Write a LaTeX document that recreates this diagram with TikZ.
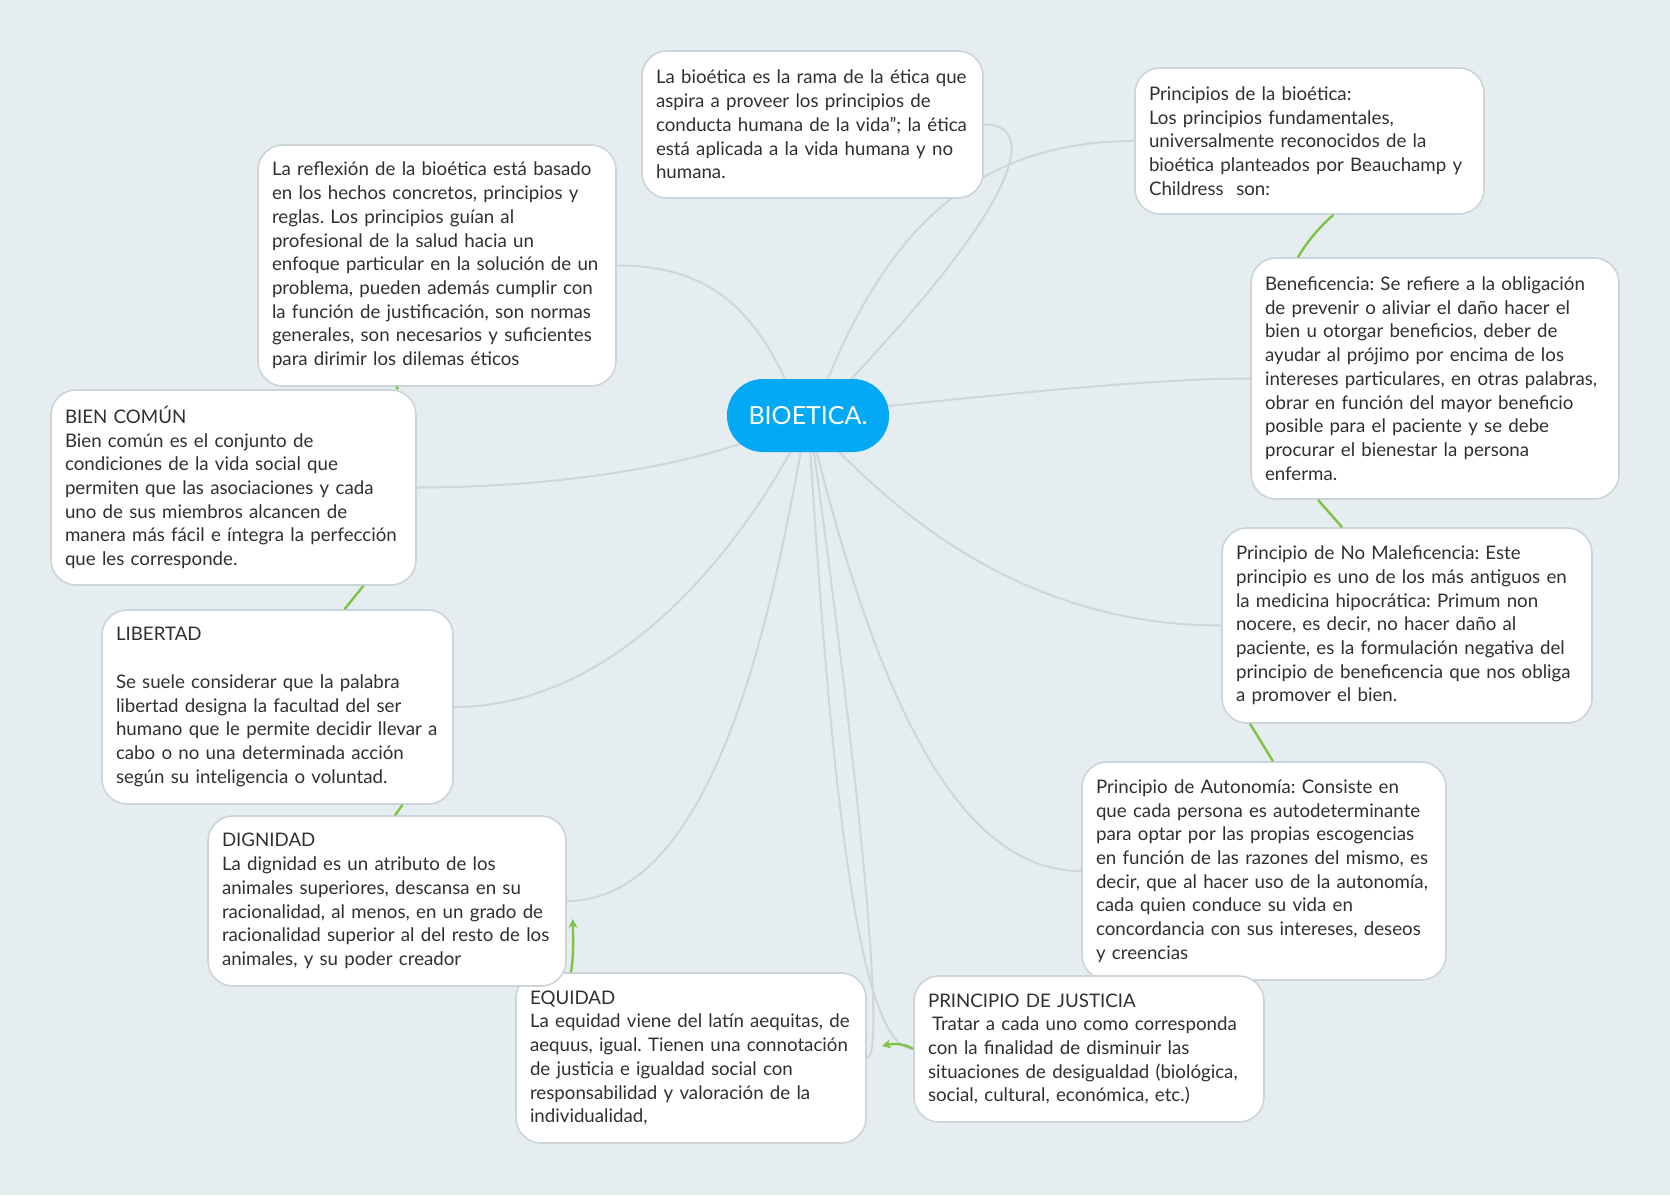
\documentclass[tikz,border=0pt]{standalone}
\usepackage{fontspec}
\setmainfont{Lato}
\usetikzlibrary{calc,arrows.meta}
\pgfdeclarelayer{background}
\pgfsetlayers{background,main}
\definecolor{bg}{HTML}{E6EDF1}
\definecolor{cardborder}{HTML}{CDD4D9}
\definecolor{txt}{HTML}{303030}
\definecolor{bioblue}{HTML}{03A9F4}
\definecolor{link}{HTML}{CFD6DB}
\definecolor{leaf}{HTML}{7DC443}
\frenchspacing
\begin{document}
\begin{tikzpicture}[x=1pt,y=-1pt,
  card/.style={draw=cardborder, line width=1.6pt, fill=white, rounded corners=25pt,
    inner xsep=14pt, inner ysep=0pt, align=left, text=txt,
    font=\fontsize{18.7}{23.7}\selectfont},
  hub/.style={fill=bioblue, rounded corners=36pt, minimum width=162pt, minimum height=73pt,
    text=white, font=\fontsize{25}{30}\selectfont, inner sep=0pt},
  graylink/.style={draw=link, line width=2pt},
  greenlink/.style={draw=leaf, line width=2.4pt},
  greenarrow/.style={draw=leaf, line width=2.4pt, -{Stealth[length=9pt,width=9pt]}},
]
\begin{pgfonlayer}{background}
\fill[bg] (0,0) rectangle (1670,1195);
\end{pgfonlayer}
\useasboundingbox (0,0) rectangle (1670,1195);

\node[hub] (bio) at (808,415.5) {BIOETICA.};

\node[card, text width=313pt, minimum height=147pt] (box1) at (812.5,124.5)
{La bioética es la rama de la ética que\\
aspira a proveer los principios de\\
conducta humana de la vida”; la ética\\
está aplicada a la vida humana y no\\
humana.};

\node[card, text width=321pt, minimum height=146pt] (princ) at (1309.5,141)
{Principios de la bioética:\\
Los principios fundamentales,\\
universalmente reconocidos de la\\
bioética planteados por Beauchamp y\\
Childress\ \ son:};

\node[card, text width=340pt, minimum height=241pt] (benef) at (1435,378.5)
{Beneficencia: Se refiere a la obligación\\
de prevenir o aliviar el daño hacer el\\
bien u otorgar beneficios, deber de\\
ayudar al prójimo por encima de los\\
intereses particulares, en otras palabras,\\
obrar en función del mayor beneficio\\
posible para el paciente y se debe\\
procurar el bienestar la persona\\
enferma.};

\node[card, text width=342pt, minimum height=195pt] (nomal) at (1407,625.5)
{Principio de No Maleficencia: Este\\
principio es uno de los más antiguos en\\
la medicina hipocrática: Primum non\\
nocere, es decir, no hacer daño al\\
paciente, es la formulación negativa del\\
principio de beneficencia que nos obliga\\
a promover el bien.};

\node[card, text width=336pt, minimum height=218pt] (auton) at (1264,871)
{Principio de Autonomía: Consiste en\\
que cada persona es autodeterminante\\
para optar por las propias escogencias\\
en función de las razones del mismo, es\\
decir, que al hacer uso de la autonomía,\\
cada quien conduce su vida en\\
concordancia con sus intereses, deseos\\
y creencias};

\node[card, text width=322pt, minimum height=146pt] (just) at (1089,1049)
{PRINCIPIO DE JUSTICIA\\
\hspace*{4pt}Tratar a cada uno como corresponda\\
con la finalidad de disminuir las\\
situaciones de desigualdad (biológica,\\
social, cultural, económica, etc.)};

\node[card, text width=322pt, minimum height=170pt] (equid) at (691,1058)
{EQUIDAD\\
La equidad viene del latín aequitas, de\\
aequus, igual. Tienen una connotación\\
de justicia e igualdad social con\\
responsabilidad y valoración de la\\
individualidad,};

\node[card, text width=330pt, minimum height=170pt] (dign) at (387,901)
{DIGNIDAD\\
La dignidad es un atributo de los\\
animales superiores, descansa en su\\
racionalidad, al menos, en un grado de\\
racionalidad superior al del resto de los\\
animales, y su poder creador};

\node[card, text width=323pt, minimum height=194pt] (libert) at (277.5,707)
{LIBERTAD\\
\mbox{}\\
Se suele considerar que la palabra\\
libertad designa la facultad del ser\\
humano que le permite decidir llevar a\\
cabo o no una determinada acción\\
según su inteligencia o voluntad.};

\node[card, text width=337pt, minimum height=195pt] (bien) at (233.5,487.5)
{BIEN COMÚN\\
Bien común es el conjunto de\\
condiciones de la vida social que\\
permiten que las asociaciones y cada\\
uno de sus miembros alcancen de\\
manera más fácil e íntegra la perfección\\
que les corresponde.};

\node[card, text width=330pt, minimum height=241pt] (reflex) at (437,265.5)
{La reflexión de la bioética está basado\\
en los hechos concretos, principios y\\
reglas. Los principios guían al\\
profesional de la salud hacia un\\
enfoque particular en la solución de un\\
problema, pueden además cumplir con\\
la función de justificación, son normas\\
generales, son necesarios y suficientes\\
para dirimir los dilemas éticos};

\begin{pgfonlayer}{background}
% gray links from the hub
\draw[graylink] ($(bio.center)+(37,-30)$) .. controls (1030,190) and (1035,124) .. (box1.east);
\draw[graylink] ($(bio.center)+(17,-30)$) .. controls (880,250) and (960,141) .. (princ.west);
\draw[graylink] ($(bio.center)+(-20,-30)$) .. controls (750,300) and (700,265.5) .. (reflex.east);
\draw[graylink] ($(bio.center)+(75,-9)$) .. controls (1000,395) and (1150,378.5) .. (benef.west);
\draw[graylink] ($(bio.center)+(-64,27)$) .. controls (650,475) and (520,487.5) .. (bien.east);
\draw[graylink] ($(bio.center)+(-14,30)$) .. controls (740,545) and (620,707) .. (libert.east);
\draw[graylink] ($(bio.center)+(-6,30)$) .. controls (775,590) and (720,901) .. (dign.east);
\draw[graylink] ($(bio.center)+(2,30)$) .. controls (832,800) and (860,1049) .. (just.west);
\draw[graylink] ($(bio.center)+(5,30)$) .. controls (855,750) and (888,1058) .. (equid.east);
\draw[graylink] ($(bio.center)+(7,30)$) .. controls (880,705) and (960,871) .. (auton.west);
\draw[graylink] ($(bio.center)+(25,30)$) .. controls (905,520) and (1030,625.5) .. (nomal.west);
\end{pgfonlayer}

% green links between cards
\draw[greenlink] ($(princ.south)+(24,0)$) .. controls (1318,228) and (1305,245) .. ($(benef.north)+(-137,0)$);
\draw[greenlink] ($(benef.south)+(-117,0)$) -- ($(nomal.north)+(-65,0)$);
\draw[greenlink] ($(nomal.south)+(-157,0)$) -- ($(auton.north)+(9,0)$);
\draw[greenlink] ($(reflex.south)+(-41,0)$) -- ($(bien.north)+(165,0)$);
\draw[greenlink] ($(bien.south)+(130,0)$) -- ($(libert.north)+(67,0)$);
\draw[greenlink] ($(libert.south)+(125,0)$) -- ($(dign.north)+(8,0)$);
\draw[greenarrow] ($(equid.north)+(-120,0)$) .. controls (574,955) and (573,935) .. ($(dign.east)+(6,18)$);
\draw[greenarrow] ($(just.west)+(0,0)$) .. controls (905,1044) and (895,1043) .. ($(equid.east)+(15,-12)$);
\end{tikzpicture}
\end{document}
